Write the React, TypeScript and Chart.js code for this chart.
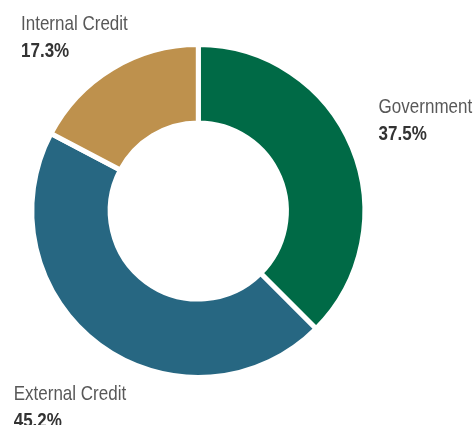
import React, { useEffect, useRef } from "react";
import { Chart, registerables } from "chart.js";

Chart.register(...registerables);

const categories = ["Government", "External Credit", "Internal Credit"];
const values = [37.5, 45.2, 17.3];
const valueLabels = ["37.5%", "45.2%", "17.3%"];
const colors = ["#006a46", "#276782", "#be914d"];
// label anchor offsets (relative to doughnut centre), in px: [dx, baselineDy]
const labelOffsets: [number, number][] = [
  [180.3, -97.7],
  [-184.6, 189],
  [-177.3, -181],
];

const FONT = '"Liberation Sans", Arial, sans-serif';
const NARROW = 0.81;
const LINE_GAP = 26.7;

const labelPlugin = {
  id: "sliceLabels",
  afterDraw(chart: any) {
    const meta = chart.getDatasetMeta(0);
    const arc = meta.data[0];
    if (!arc) return;
    const cx = arc.x;
    const cy = arc.y;
    const ctx = chart.ctx;
    categories.forEach((name, i) => {
      const [dx, dy] = labelOffsets[i];
      const x = cx + dx;
      const y = cy + dy;
      ctx.save();
      ctx.textAlign = "left";
      ctx.textBaseline = "alphabetic";
      ctx.translate(x, y);
      ctx.scale(NARROW, 1);
      ctx.fillStyle = "#585858";
      ctx.font = `21px ${FONT}`;
      ctx.fillText(name, 0, 0);
      ctx.fillStyle = "#333333";
      ctx.font = `bold 21px ${FONT}`;
      ctx.fillText(valueLabels[i], 0, LINE_GAP);
      ctx.restore();
    });
  },
};

export default function App() {
  const ref = useRef<HTMLCanvasElement | null>(null);
  useEffect(() => {
    document.body.style.margin = "0";
    const canvas = ref.current;
    if (!canvas) return;
    const chart = new Chart(canvas, {
      type: "doughnut",
      data: {
        labels: categories,
        datasets: [
          {
            data: values,
            backgroundColor: colors,
            borderColor: "#ffffff",
            borderWidth: 5,
            hoverOffset: 0,
          },
        ],
      },
      options: {
        responsive: false,
        animation: false,
        cutout: "52.9%",
        layout: { padding: { left: 29.3, right: 106.7, top: 42, bottom: 45 } },
        plugins: {
          legend: { display: false },
          tooltip: { enabled: false },
        },
      },
      plugins: [labelPlugin],
    });
    return () => chart.destroy();
  }, []);
  return (
    <div style={{ width: 474, height: 425, background: "#ffffff" }}>
      <canvas ref={ref} width={474} height={425} style={{ display: "block" }} />
    </div>
  );
}
